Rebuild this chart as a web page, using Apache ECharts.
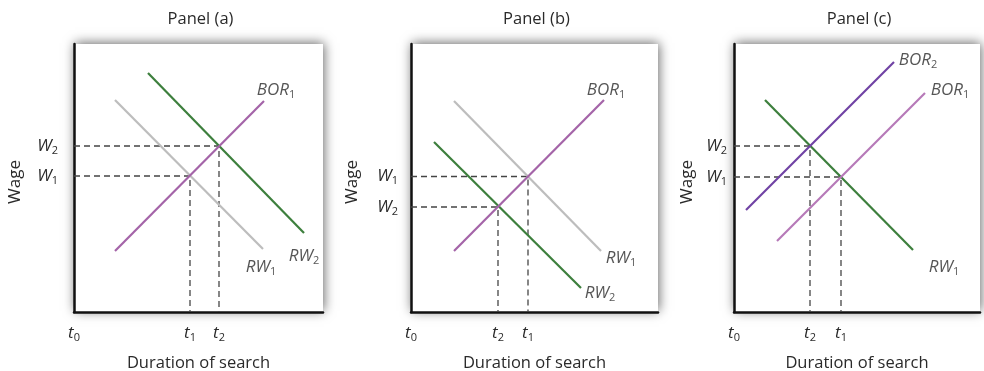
<!DOCTYPE html>
<html>
<head>
<meta charset="utf-8">
<script src="https://cdn.jsdelivr.net/npm/echarts@6/dist/echarts.min.js"></script>
<style>html,body{margin:0;padding:0;background:#fff;}#chart{width:984px;height:371px;}</style>
</head>
<body>
<div id="chart"></div>
<script>
// ---------- data ----------
const panelTitles = ['Panel (a)', 'Panel (b)', 'Panel (c)'];
const xAxisName = 'Duration of search';
const yAxisName = 'Wage';

// Panel (a)
const aRW1  = [[41, 212], [189, 63]];
const aRW2  = [[74, 239], [230, 79]];
const aBOR1 = [[41, 61], [190, 211]];
const aWageValues = [136, 166];
const aWageLabels = ['W1', 'W2'];
const aTimeValues = [0, 116, 145];
const aTimeLabels = ['t0', 't1', 't2'];

// Panel (b)
const bRW1  = [[43, 211], [190, 61]];
const bRW2  = [[23, 170], [170, 24]];
const bBOR1 = [[43, 61], [193, 212]];
const bWageValues = [135.5, 105];
const bWageLabels = ['W1', 'W2'];
const bTimeValues = [0, 117, 87];
const bTimeLabels = ['t0', 't1', 't2'];

// Panel (c)
const cRW1  = [[31, 212], [179, 62]];
const cBOR1 = [[43, 71], [191, 219]];
const cBOR2 = [[12, 102], [160, 250]];
const cWageValues = [135, 166];
const cWageLabels = ['W1', 'W2'];
const cTimeValues = [0, 107, 76];
const cTimeLabels = ['t0', 't1', 't2'];

// equilibrium pairs (time index, wage index) for dashed guides
const aGuides = [[1, 0], [2, 1]];
const bGuides = [[1, 0], [2, 1]];
const cGuides = [[1, 0], [2, 1]];

// ---------- styles / layout ----------
const FONT = '"Open Sans", "Liberation Sans", sans-serif';
const TXT = '#2a2a2a';
const GREEN = '#3d7f3d';
const PURPLE = '#a464a8';
const VIOLET = '#7042a4';
const GRAY = '#bdbdbd';

const rich = {
  i: {fontFamily: FONT, fontStyle: 'italic', fontSize: 17, color: TXT, lineHeight: 20},
  s: {fontFamily: FONT, fontSize: 11, color: TXT, lineHeight: 11, padding: [9, 0, 0, 0], verticalAlign: 'bottom'}
};
function sub(s) {
  const m = s.match(/^([A-Za-z]+)(\d)$/);
  return '{i|' + m[1] + '}{s|' + m[2] + '}';
}

const grids = [
  {left: 74, top: 44, width: 249, height: 268},
  {left: 411, top: 44, width: 247, height: 268},
  {left: 734, top: 44, width: 246, height: 268}
];
const wageGaps = [50, 50, 38];
const wageLabelMargins = [16, 13, 7];

const panels = [
  {
    curves: [
      {name: 'RW1', data: aRW1, color: GRAY, off: [-2, 18]},
      {name: 'RW2', data: aRW2, color: GREEN, off: [0, 23]},
      {name: 'BOR1', data: aBOR1, color: PURPLE, off: [12, -11]}
    ],
    wv: aWageValues, wl: aWageLabels, tv: aTimeValues, tl: aTimeLabels, guides: aGuides
  },
  {
    curves: [
      {name: 'RW1', data: bRW1, color: GRAY, off: [20, 7]},
      {name: 'RW2', data: bRW2, color: GREEN, off: [19, 5]},
      {name: 'BOR1', data: bBOR1, color: PURPLE, off: [2, -10]}
    ],
    wv: bWageValues, wl: bWageLabels, tv: bTimeValues, tl: bTimeLabels, guides: bGuides
  },
  {
    curves: [
      {name: 'RW1', data: cRW1, color: GREEN, off: [31, 17]},
      {name: 'BOR1', data: cBOR1, color: '#b679b8', off: [25, -3]},
      {name: 'BOR2', data: cBOR2, color: VIOLET, off: [24, -2]}
    ],
    wv: cWageValues, wl: cWageLabels, tv: cTimeValues, tl: cTimeLabels, guides: cGuides
  }
];

function findLabel(vals, labs, v) {
  for (let k = 0; k < vals.length; k++) if (Math.abs(vals[k] - v) < 1e-6) return sub(labs[k]);
  return '';
}

const option = {
  animation: false,
  backgroundColor: '#fff',
  title: [],
  grid: [],
  xAxis: [],
  yAxis: [],
  series: []
};

panels.forEach((p, i) => {
  const g = grids[i];
  option.title.push({
    text: panelTitles[i],
    left: g.left + g.width / 2 - 3,
    top: 6,
    textAlign: 'center',
    textStyle: {fontFamily: FONT, fontSize: 16.5, fontWeight: 'normal', color: TXT}
  });
  option.grid.push(Object.assign({
    show: true, backgroundColor: '#fff', borderWidth: 0,
    containLabel: false, outerBoundsMode: 'none',
    shadowBlur: 11, shadowColor: 'rgba(0,0,0,0.6)', shadowOffsetX: 1, shadowOffsetY: -1
  }, g));
  option.xAxis.push({
    gridIndex: i, type: 'value', min: 0, max: g.width,
    axisLine: {onZero: false, lineStyle: {color: '#111', width: 2.5}},
    axisTick: {show: false}, splitLine: {show: false},
    axisLabel: {
      customValues: p.tv, margin: 11, rich: rich,
      formatter: v => findLabel(p.tv, p.tl, v)
    },
    name: xAxisName, nameLocation: 'middle', nameGap: 43,
    nameTextStyle: {fontFamily: FONT, fontSize: 16.5, color: TXT}
  });
  option.yAxis.push({
    gridIndex: i, type: 'value', min: 0, max: g.height,
    axisLine: {onZero: false, lineStyle: {color: '#111', width: 2.5}},
    axisTick: {show: false}, splitLine: {show: false},
    axisLabel: {
      customValues: p.wv, margin: wageLabelMargins[i], rich: rich,
      formatter: v => findLabel(p.wv, p.wl, v)
    },
    name: yAxisName, nameLocation: 'middle', nameGap: wageGaps[i],
    nameTextStyle: {fontFamily: FONT, fontSize: 17, color: TXT, padding: [0, 8, 0, 0]}
  });
  // dashed guides
  p.guides.forEach(([ti, wi]) => {
    const t = p.tv[ti], w = p.wv[wi];
    option.series.push({
      type: 'line', xAxisIndex: i, yAxisIndex: i, symbol: 'none', silent: true, z: 1,
      data: [[0, w], [t, w], [t, 0]],
      lineStyle: {color: '#444', width: 1.3, type: [6, 4]}
    });
  });
  // curves
  p.curves.forEach(c => {
    option.series.push({
      type: 'line', xAxisIndex: i, yAxisIndex: i, symbol: 'none', silent: true, z: 3,
      data: c.data,
      lineStyle: {color: c.color, width: 2.2}
    });
    option.series.push({
      type: 'scatter', xAxisIndex: i, yAxisIndex: i, silent: true, z: 4,
      symbolSize: 1, itemStyle: {color: 'rgba(0,0,0,0)'},
      data: [c.data[c.data.length - 1]],
      label: {show: true, position: 'inside', offset: c.off, rich: rich,
        formatter: () => sub(c.name)}
    });
  });
});

const chart = echarts.init(document.getElementById('chart'), null, {renderer: 'canvas'});
chart.setOption(option);
</script>
</body>
</html>
